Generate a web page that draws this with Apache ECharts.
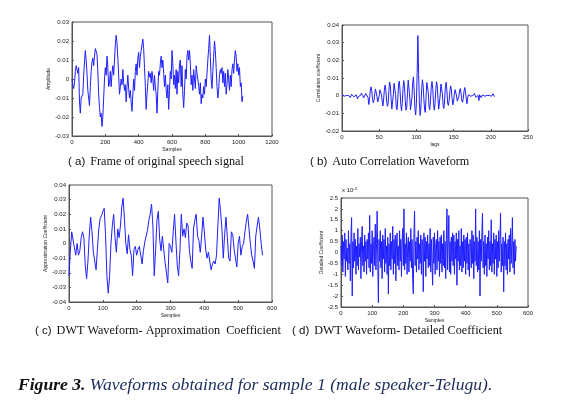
<!DOCTYPE html>
<html><head><meta charset="utf-8">
<script src="https://cdn.jsdelivr.net/npm/echarts/dist/echarts.min.js"></script>
<style>html,body{margin:0;padding:0;background:#fff}#c{width:569px;height:412px}</style>
</head><body><div id="c"></div><script>
// (a) frame of original speech signal, one value every 5 samples
const stepA = 5;
const speechA = [0,-0.003,-0.005,-0.002,0.004,0.007,0.005,0.003,0.006,-0.012,-0.018,
-0.01,-0.011,-0.008,0.002,0.009,0.015,0.01,0.003,-0.006,-0.01,
-0.014,-0.004,0.004,0.009,0.011,0.007,0.012,0.016,0.017,0.013,
0.004,-0.008,-0.015,-0.02,-0.018,-0.025,-0.02,-0.01,0.0,0.006,
0.002,0.012,0.006,-0.004,-0.002,0.004,-0.004,0.003,0.007,0.002,
0.01,0.018,0.023,0.019,0.011,0.002,-0.008,-0.004,0.0,-0.003,
0.005,-0.002,-0.006,-0.003,-0.012,-0.004,0.002,-0.005,-0.01,-0.006,
-0.012,-0.017,-0.008,0.0,-0.006,0.004,0.008,0.002,0.011,0.014,
0.006,0.012,0.015,0.018,0.021,0.016,0.006,-0.004,-0.016,-0.008,
-0.002,0.004,0.001,0.003,-0.002,0.004,0.0,-0.006,0.002,-0.004,
-0.008,-0.018,-0.006,0.004,0.002,0.008,0.012,0.006,0.01,0.003,
-0.004,0.002,-0.006,-0.01,-0.003,-0.016,-0.006,0.004,0.0,0.015,
0.008,-0.003,0.002,-0.005,0.005,-0.008,0.004,-0.002,0.008,0.01,
-0.004,0.007,-0.008,-0.015,-0.006,0.005,0.0,0.012,0.015,0.01,
0.015,0.008,-0.003,0.002,-0.006,0.005,0.0,-0.005,0.007,0.003,
0.0,-0.004,-0.008,-0.002,-0.013,-0.008,-0.01,-0.004,-0.008,0.0,
-0.004,0.003,0.01,0.016,0.023,0.012,0.0,-0.005,0.004,0.012,
0.02,0.015,0.006,-0.004,-0.01,-0.006,0.002,0.005,0.003,0.006,
-0.002,0.004,-0.004,0.003,-0.008,-0.003,0.005,0.0,-0.006,0.002,
-0.004,0.005,0.008,0.003,0.01,0.015,0.012,0.004,0.008,0.002,
0.006,-0.004,-0.002,-0.012,-0.009];

// (b) auto correlation, one value per lag
const stepB = 1;
const acfB = [0.0004,0.0012,0.0008,-0.0003,-0.0011,-0.001,0.0001,0.001,0.001,0.0001,
-0.001,-0.0011,-0.0003,0.0008,0.0012,0.0004,-0.0007,-0.0012,-0.0006,0.0005,
0.0012,-0.0018,-0.0005,-0.0014,-0.0011,0.0002,0.0014,0.0012,0,-0.0013,
-0.0013,-0.0002,0.0012,0.0014,0.0004,-0.001,-0.005,-0.002,0.0027,0.005,
0.0027,-0.0016,-0.004,-0.0026,0.0011,0.0038,0.0031,-0.0005,-0.0036,-0.0034,
-0.0001,0.0033,0.0037,0.0007,-0.0029,-0.0058,-0.0019,0.0037,0.006,0.0027,
-0.003,-0.006,-0.0046,0.0029,0.0078,0.0056,-0.0018,-0.0075,-0.0064,0.0006,
0.007,0.007,0.0006,-0.0068,-0.008,-0.0019,0.006,0.0083,0.0031,-0.0049,
-0.0085,-0.0043,0.0039,0.0085,0.0053,-0.0027,-0.0082,-0.0069,0.0016,0.0087,
0.0079,-0.0002,-0.0081,-0.0086,-0.0011,0.0073,0.0106,0.003,-0.0073,-0.0109,
-0.0045,0.013,0.034,
0.012,-0.004,-0.0112,-0.007,0.0026,0.009,0.006,-0.0015,-0.008,-0.0095,
-0.0005,0.0075,0.0082,0.0018,-0.0065,-0.0079,-0.0025,0.005,0.008,0.0036,
-0.004,-0.0082,-0.0046,0.0028,0.0079,0.0058,-0.0017,-0.0076,-0.0065,0.0005,
0.0066,0.0068,0.0008,-0.006,-0.0072,-0.002,0.0052,0.0076,0.003,-0.0042,
-0.0055,-0.0028,0.0024,0.0056,0.0034,-0.0017,-0.0052,-0.003,0.0006,0.0034,
0.003,-0.0002,-0.0031,-0.0033,-0.0004,0.0028,0.004,0.0012,-0.0024,-0.0038,
-0.0015,0.0025,0.0046,0.0025,-0.0018,-0.0046,-0.001,0.0005,0.0013,0.0011,
-0.0003,-0.0012,-0.0012,0.0001,0.0011,0.0013,0.0002,-0.001,-0.0013,-0.0005,
0.0002,-0.0028,0.0005,-0.0006,-0.0011,-0.0007,0.0004,0.0011,0.0008,-0.0003,
-0.001,-0.001,0.0001,0.0009,0.001,0.0001,-0.0009,-0.001,-0.0003,0.0007,
0.0011,0.0004,-0.0006];

// (c) DWT approximation coefficients, one value every 4 samples
const stepC = 4;
const approxC = [-0.022,-0.005,0.008,0.008,-0.003,-0.008,0.0,-0.008,-0.005,0.004,
0.008,0.004,-0.015,-0.024,-0.012,0.006,0.018,0.008,-0.006,-0.006,
-0.018,-0.004,0.01,0.017,0.019,0.022,0.024,0.006,-0.022,-0.034,
-0.022,0.0,0.012,0.02,0.004,-0.006,0.01,0.004,0.012,0.025,
0.031,0.016,0.0,-0.007,0.006,-0.004,-0.008,-0.022,-0.004,-0.002,
-0.008,-0.004,-0.002,-0.003,-0.014,-0.005,0.001,0.002,0.009,0.016,
0.02,0.027,0.012,-0.022,-0.004,0.016,0.022,0.003,-0.005,0.005,
-0.004,-0.013,-0.02,-0.027,0.0,-0.002,-0.006,0.008,0.02,0.002,
-0.015,-0.022,-0.004,0.02,0.005,0.01,0.004,0.014,0.012,-0.005,
-0.012,-0.017,0.01,0.016,0.02,0.005,0.002,-0.006,0.005,0.018,
0.008,-0.004,-0.01,-0.006,-0.012,-0.018,-0.014,-0.012,-0.014,-0.008,
0.012,0.031,0.022,0.01,-0.01,0.006,0.018,0.004,-0.01,-0.012,
0.008,0.006,-0.004,-0.01,-0.016,0.0,0.005,-0.008,-0.002,0.0,
0.008,0.015,0.02,0.01,0.0,-0.008,-0.012,-0.017,0.005,0.012,
0.018,0.01,0.0,-0.008];

// (d) DWT detailed coefficients (x 10^-3), one value every 2 samples
const stepD = 2;
const detailD = [0.3,-0.6,0.8,-0.9,0.5,-0.3,0.9,-1.1,0.6,-0.4,0.2,-0.8,1.0,-0.5,0.4,-1.3,0.7,1.6,-2.0,0.5,
-0.7,0.9,-0.4,0.6,-1.0,0.3,-0.6,1.1,-0.8,0.4,-0.2,0.7,-1.2,0.5,1.2,-0.6,0.3,-0.9,0.8,-0.4,
0.5,-1.0,0.6,-0.3,0.9,-0.7,1.7,-0.9,0.4,-0.5,1.0,-1.1,0.2,0.7,-0.6,1.3,-0.8,0.4,1.9,-0.5,
-2.3,0.6,-0.4,1.0,-0.7,0.5,-1.2,0.8,-0.3,0.6,-0.9,1.1,-0.5,0.3,-1.0,0.7,-1.9,0.4,-0.6,0.9,
-0.8,0.5,-0.3,1.2,-1.0,0.6,-0.5,0.8,-1.3,0.4,0.9,-0.6,0.3,-0.8,1.0,-0.4,0.6,-1.1,0.5,1.1,
-0.6,2.0,-0.8,0.4,-0.5,0.9,-1.0,0.3,0.7,-0.9,0.5,-0.4,1.1,-0.7,0.6,-1.2,-1.9,0.8,1.9,-0.6,
0.5,-0.9,0.7,-0.3,1.0,-0.8,0.4,-0.5,0.8,-1.0,0.6,0.3,-1.8,0.9,-0.4,0.7,-1.1,0.5,-0.3,0.8,
-0.7,0.4,-0.6,1.1,-0.9,0.6,-0.4,-1.5,0.7,-0.5,0.9,-1.0,0.3,0.6,-0.8,1.0,-0.4,0.5,-1.1,0.7,
-0.5,0.8,-0.9,0.4,-0.6,1.0,-0.7,0.5,-1.2,0.6,2.0,-0.8,0.4,1.7,-0.9,0.5,-1.0,0.7,-0.4,0.9,
-0.6,0.8,-1.0,0.5,-0.3,0.9,-1.5,0.6,-0.4,1.0,-0.8,0.3,-0.6,1.1,-0.9,0.5,-0.7,0.8,-0.4,0.6,
-1.0,0.7,-0.5,0.9,-0.8,0.4,-1.1,0.6,0.3,-0.7,1.0,-0.5,0.8,-1.2,0.5,-0.4,2.0,-0.6,0.7,-0.9,
0.5,-0.8,1.0,-2.0,0.6,-0.4,0.9,1.8,-0.7,0.5,-1.0,0.8,-0.6,0.4,-1.1,0.7,-0.3,1.0,-0.8,0.5,
-0.6,1.5,-0.9,0.4,-0.5,0.9,-1.0,0.6,-0.3,0.8,-1.1,0.5,-0.7,1.0,-0.4,0.6,1.8,-0.9,0.4,-0.6,
0.7,-1.8,0.5,-0.6,0.9,-0.8,0.4,-1.0,0.6,-0.3,0.8,-0.9,1.1,-0.5,0.4,1.6,-0.7,0.5,-1.0,0.6,
-0.4,0.3];

// axis ranges: [min, max, interval]
const xRangeA = [0, 1200, 200], yRangeA = [-0.03, 0.03, 0.01];
const xRangeB = [0, 250, 50],   yRangeB = [-0.02, 0.04, 0.01];
const xRangeC = [0, 600, 100],  yRangeC = [-0.04, 0.04, 0.01];
const xRangeD = [0, 600, 100],  yRangeD = [-2.5, 2.5, 0.5];

const xNames = ['Samples', 'lags', 'Samples', 'Samples'];
const yNames = ['Amplitude', 'Correlation coefficient', 'Approximation Coefficient', 'Detailed Coefficient'];
const captions = [
  ['( a)', 'Frame of original speech signal'],
  ['( b)', 'Auto Correlation Waveform'],
  ['( c)', 'DWT Waveform- Approximation  Coefficient'],
  ['( d)', 'DWT Waveform- Detailed Coefficient']
];
const figLabel = 'Figure 3.';
const figText = ' Waveforms obtained for sample 1 (male speaker-Telugu).';

const xy = (arr, step) => arr.map((v, i) => [i * step, v]);
const fmt = v => String(Math.round(v * 10000) / 10000);

const grids = [
  {left: 72, top: 22, width: 200, height: 114},
  {left: 342, top: 25, width: 186, height: 106},
  {left: 69, top: 185, width: 203, height: 117},
  {left: 341, top: 198, width: 187, height: 109}
].map(g => Object.assign(g, {show: true, borderColor: '#555', borderWidth: 1, backgroundColor: '#fff'}));

const lineCol = '#555';
function xAx(i, r, name) {
  return {gridIndex: i, type: 'value', min: r[0], max: r[1], interval: r[2],
    axisLine: {show: true, onZero: false, lineStyle: {color: lineCol, width: 1}},
    axisTick: {show: true, inside: true, length: 2, lineStyle: {color: lineCol}},
    axisLabel: {fontSize: 6, margin: 3, color: '#222', fontFamily: 'Liberation Sans', formatter: fmt},
    splitLine: {show: false},
    name: name, nameLocation: 'middle', nameGap: 11,
    nameTextStyle: {fontSize: 5, color: '#222', fontFamily: 'Liberation Sans'}};
}
function yAx(i, r, name, gap) {
  return {gridIndex: i, type: 'value', min: r[0], max: r[1], interval: r[2],
    axisLine: {show: true, onZero: false, lineStyle: {color: lineCol, width: 1}},
    axisTick: {show: true, inside: true, length: 2, lineStyle: {color: lineCol}},
    axisLabel: {fontSize: 6, margin: 3, color: '#222', fontFamily: 'Liberation Sans', formatter: fmt},
    splitLine: {show: false},
    name: name, nameLocation: 'middle', nameGap: gap, nameRotate: 90,
    nameTextStyle: {fontSize: 5, color: '#222', fontFamily: 'Liberation Sans'}};
}

const series = [xy(speechA, stepA), xy(acfB, stepB), xy(approxC, stepC), xy(detailD, stepD)].map((d, i) => ({
  type: 'line', xAxisIndex: i, yAxisIndex: i, data: d, showSymbol: false, symbol: 'none',
  lineStyle: {width: 1, color: '#1f1fff'}, animation: false
}));

const capPos = [[68, 153], [310, 153], [35, 322], [292, 322]];
const capRich = {
  s: {fontFamily: 'Liberation Sans', fontSize: 11.5, fontWeight: 'normal', color: '#111'},
  t: {fontFamily: 'Liberation Serif', fontSize: 12.2, fontWeight: 'normal', color: '#111'}
};
const titles = captions.map((c, i) => ({
  text: '{s|' + c[0] + '} {t|' + c[1] + '}', left: capPos[i][0], top: capPos[i][1], padding: 0,
  textStyle: {fontWeight: 'normal', rich: capRich}
}));
titles.push({
  text: '{b|' + figLabel + '}{n|' + figText + '}', left: 18, top: 376, padding: 0,
  textStyle: {fontWeight: 'normal', rich: {
    b: {fontFamily: 'Liberation Serif', fontSize: 17.6, fontStyle: 'italic', fontWeight: 'bold', color: '#111'},
    n: {fontFamily: 'Liberation Serif', fontSize: 17.6, fontStyle: 'italic', fontWeight: 'normal', color: '#1c2c5a'}
  }}
});
titles.push({
  text: '{a|x 10}{e|-3}', left: 342, top: 187, padding: 0,
  textStyle: {fontWeight: 'normal', rich: {a: {fontSize: 6, fontWeight: 'normal', color: '#222', fontFamily: 'Liberation Sans'},
                     e: {fontSize: 4, fontWeight: 'normal', color: '#222', fontFamily: 'Liberation Sans', verticalAlign: 'top'}}}
});

const chart = echarts.init(document.getElementById('c'), null, {renderer: 'canvas'});
chart.setOption({
  animation: false,
  backgroundColor: '#fff',
  title: titles,
  grid: grids,
  xAxis: [xAx(0, xRangeA, xNames[0]), xAx(1, xRangeB, xNames[1]), xAx(2, xRangeC, xNames[2]), xAx(3, xRangeD, xNames[3])],
  yAxis: [yAx(0, yRangeA, yNames[0], 20), yAx(1, yRangeB, yNames[1], 20), yAx(2, yRangeC, yNames[2], 20), yAx(3, yRangeD, yNames[3], 17)],
  series: series
});
</script></body></html>
